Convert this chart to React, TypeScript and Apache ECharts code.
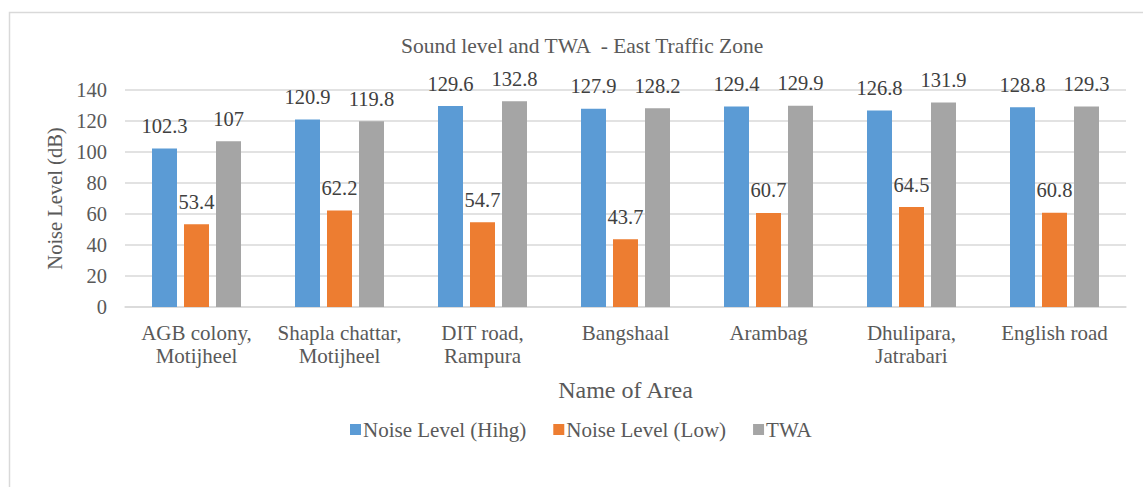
import React, { useEffect, useRef } from "react";
import * as echarts from "echarts";

const categories = [
  "AGB colony,\nMotijheel",
  "Shapla chattar,\nMotijheel",
  "DIT road,\nRampura",
  "Bangshaal",
  "Arambag",
  "Dhulipara,\nJatrabari",
  "English road",
];
const noiseHigh = [102.3, 120.9, 129.6, 127.9, 129.4, 126.8, 128.8];
const noiseLow = [53.4, 62.2, 54.7, 43.7, 60.7, 64.5, 60.8];
const twa = [107, 119.8, 132.8, 128.2, 129.9, 131.9, 129.3];
const seriesNames = ["Noise Level (Hihg)", "Noise Level (Low)", "TWA"];
const colors = ["#5B9BD5", "#ED7D31", "#A5A5A5"];

const FONT = "Liberation Serif";
const TXT = "#595959";
const FS = 20.5;
const FS2 = 21;

export default function App() {
  const ref = useRef<HTMLDivElement>(null);
  useEffect(() => {
    if (!ref.current) return;
    const chart = echarts.init(ref.current, undefined, { renderer: "svg" });
    const mk = (name: string, data: number[], color: string) => ({
      name,
      type: "bar",
      data,
      barWidth: 25,
      barGap: "28%",
      itemStyle: { color },
      label: {
        show: true,
        position: "top",
        distance: 12,
        fontFamily: FONT,
        fontSize: FS,
        color: "#404040",
      },
    });
    chart.setOption({
      animation: false,
      textStyle: { fontFamily: FONT },
      graphic: [
        {
          type: "rect",
          shape: { x: 9.5, y: 12.5, width: 1300, height: 600 },
          style: { fill: "none", stroke: "#d9d9d9", lineWidth: 1.5 },
          silent: true,
          z: -10,
        },
      ],
      title: {
        text: "Sound level and TWA  - East Traffic Zone",
        left: 396,
        top: 30,
        textStyle: { fontFamily: FONT, fontSize: 21.5, fontWeight: "normal", color: TXT },
      },
      legend: {
        data: seriesNames,
        bottom: 42,
        left: 345,
        itemWidth: 11,
        itemHeight: 11,
        itemGap: 27,
        icon: "rect",
        textStyle: { fontFamily: FONT, fontSize: FS2, color: TXT, padding: [0, 0, 0, -3] },
      },
      grid: { left: 125, right: 17, top: 90, bottom: 180 },
      xAxis: {
        type: "category",
        data: categories,
        name: "Name of Area",
        nameLocation: "middle",
        nameGap: 71,
        nameTextStyle: { fontFamily: FONT, fontSize: 24, color: TXT },
        axisLine: { lineStyle: { color: "#d9d9d9", width: 1.5 } },
        axisTick: { show: false },
        axisLabel: {
          fontFamily: FONT,
          fontSize: FS2,
          color: TXT,
          margin: 14,
          lineHeight: 23,
          interval: 0,
        },
      },
      yAxis: {
        type: "value",
        min: 0,
        max: 140,
        interval: 20,
        name: "Noise Level (dB)",
        nameLocation: "middle",
        nameGap: 60,
        nameTextStyle: { fontFamily: FONT, fontSize: FS, color: TXT },
        axisLine: { show: false },
        axisTick: { show: false },
        axisLabel: { fontFamily: FONT, fontSize: FS, color: TXT, margin: 18 },
        splitLine: { lineStyle: { color: "#d9d9d9", width: 1.5 } },
      },
      series: [
        mk(seriesNames[0], noiseHigh, colors[0]),
        mk(seriesNames[1], noiseLow, colors[1]),
        mk(seriesNames[2], twa, colors[2]),
      ],
    });
    return () => chart.dispose();
  }, []);
  return (
    <div
      ref={ref}
      style={{ position: "fixed", left: 0, top: 0, width: 1143, height: 487, background: "#fff" }}
    />
  );
}
